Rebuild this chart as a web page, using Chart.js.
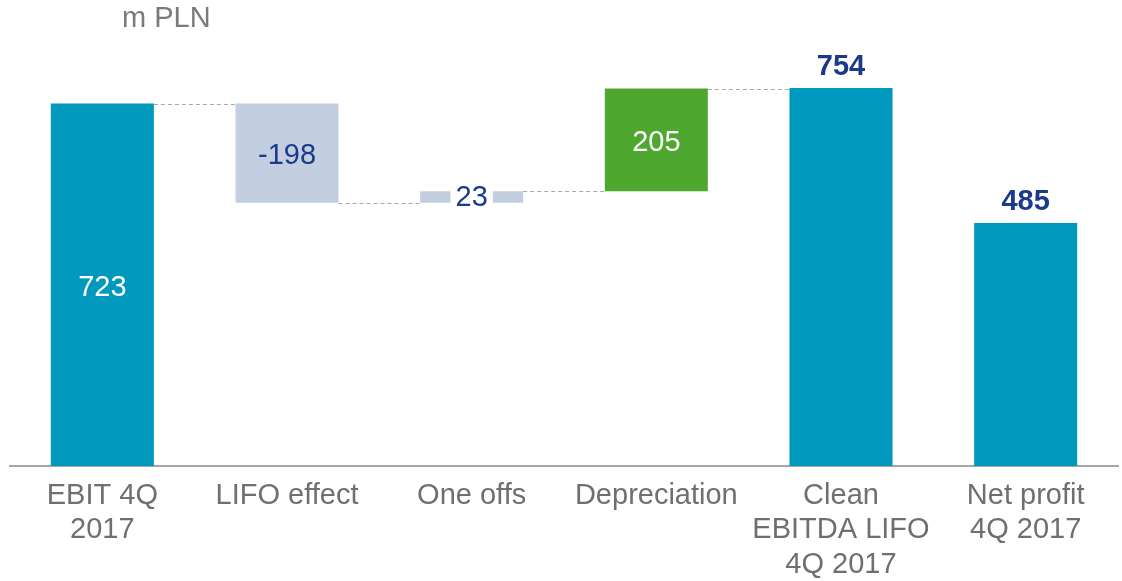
<!DOCTYPE html>
<html>
<head>
<meta charset="utf-8">
<script src="https://cdn.jsdelivr.net/npm/chart.js@4"></script>
<style>
    html, body { margin: 0; padding: 0; background: #fff; }
    #wrap { width: 1122px; height: 581px; position: relative; }
</style>
</head>
<body>
<div id="wrap"><canvas id="bridge"></canvas></div>
<script>
// Chart data
const categories = [
    ['EBIT 4Q', '2017'],
    'LIFO effect',
    'One offs',
    'Depreciation',
    ['Clean', 'EBITDA LIFO', '4Q 2017'],
    ['Net profit', '4Q 2017']
];
const values = [723, -198, 23, 205, 754, 485];
const kinds = ['total', 'delta', 'delta', 'delta', 'total', 'total'];
const unitLabel = 'm PLN';

// Colors
const colors = {
    total: '#0098bd',
    down: '#c3cee0',
    up: '#4ea72e',
    label: '#1b3a8c',
    axisText: '#6f6f6f',
    axisLine: '#a6a6a6',
    connector: '#a8a8a8'
};

const FONT = '"Liberation Sans", Arial, sans-serif';

// Build floating ranges from the waterfall steps
const ranges = [];
let running = 0;
values.forEach((v, i) => {
    if (kinds[i] === 'total') {
        ranges.push([0, v]);
        running = v;
    } else {
        ranges.push([running, running + v]);
        running += v;
    }
});

const barColors = values.map((v, i) => {
    if (kinds[i] === 'total') return colors.total;
    if (i === 3) return colors.up;
    return colors.down;
});

// Dashed connectors + value labels + unit text
const waterfallPlugin = {
    id: 'waterfall',
    afterDatasetsDraw(chart) {
        const ctx = chart.ctx;
        const meta = chart.getDatasetMeta(0);
        const y = chart.scales.y;

        // connectors between consecutive bars (not between the two last totals)
        ctx.save();
        ctx.strokeStyle = colors.connector;
        ctx.lineWidth = 1;
        ctx.setLineDash([4, 3]);
        for (let i = 0; i < ranges.length - 1; i++) {
            if (kinds[i] === 'total' && kinds[i + 1] === 'total') continue;
            const a = meta.data[i], b = meta.data[i + 1];
            const py = Math.round(y.getPixelForValue(ranges[i][1])) + 0.5;
            ctx.beginPath();
            ctx.moveTo(a.x + a.width / 2, py);
            ctx.lineTo(b.x - b.width / 2, py);
            ctx.stroke();
        }
        ctx.restore();

        // value labels
        ctx.save();
        ctx.textAlign = 'center';
        ctx.textBaseline = 'middle';
        values.forEach((v, i) => {
            const bar = meta.data[i];
            const top = y.getPixelForValue(Math.max(ranges[i][0], ranges[i][1]));
            const bottom = y.getPixelForValue(Math.min(ranges[i][0], ranges[i][1]));
            const mid = (top + bottom) / 2;
            const text = String(v);
            if (i === 0 || i === 3) {
                ctx.font = '29px ' + FONT;
                ctx.fillStyle = '#ffffff';
                ctx.fillText(text, bar.x, mid + 3);
            } else if (kinds[i] === 'delta') {
                ctx.font = '29px ' + FONT;
                if (i === 2) {
                    const w = ctx.measureText(text).width + 10;
                    ctx.fillStyle = '#ffffff';
                    ctx.fillRect(bar.x - w / 2, mid - 9, w, 18);
                }
                ctx.fillStyle = colors.label;
                ctx.fillText(text, bar.x, mid + (i === 1 ? 3 : 1));
            } else {
                ctx.font = 'bold 29px ' + FONT;
                ctx.fillStyle = colors.label;
                ctx.fillText(text, bar.x, top - 21);
            }
        });

        // unit text
        ctx.font = '29px ' + FONT;
        ctx.fillStyle = '#7a7a7a';
        ctx.textAlign = 'left';
        ctx.fillText(unitLabel, 122, 19);
        ctx.restore();
    }
};

new Chart(document.getElementById('bridge').getContext('2d'), {
    type: 'bar',
    data: {
        labels: categories,
        datasets: [{
            data: ranges,
            backgroundColor: barColors,
            borderWidth: 0,
            barPercentage: 0.558,
            categoryPercentage: 1.0
        }]
    },
    options: {
        responsive: true,
        maintainAspectRatio: false,
        animation: false,
        layout: {
            padding: { top: 65, left: 10, right: 4, bottom: 0 }
        },
        plugins: {
            legend: { display: false },
            tooltip: { enabled: false }
        },
        scales: {
            x: {
                afterFit(scale) { scale.height = 115; },
                grid: { display: false },
                border: { display: true, color: colors.axisLine, width: 2 },
                ticks: {
                    color: colors.axisText,
                    padding: 5,
                    maxRotation: 0,
                    autoSkip: false,
                    font: { family: FONT, size: 29, lineHeight: 1.18 }
                }
            },
            y: {
                display: false,
                min: 0,
                max: 800
            }
        }
    },
    plugins: [waterfallPlugin]
});
</script>
</body>
</html>
